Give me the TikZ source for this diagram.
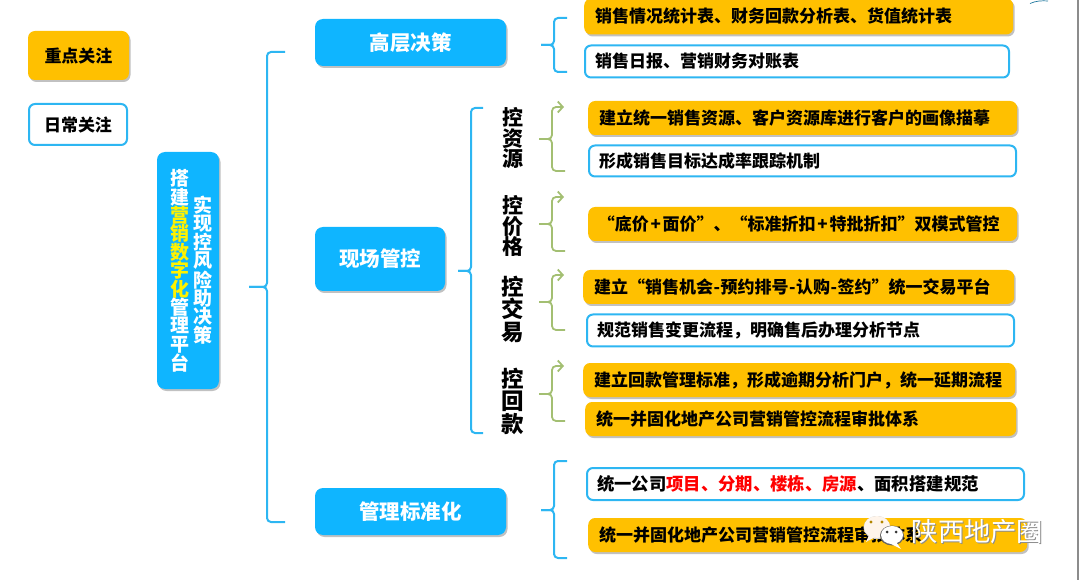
\documentclass[tikz,border=0pt]{standalone}
\usepackage{fontspec}
\setmainfont{Noto Sans CJK SC}
\usetikzlibrary{shadows}
\usetikzlibrary{calc, arrows.meta}

\definecolor{goldfill}{HTML}{FFC000}
\definecolor{skyfill}{HTML}{0FB5FF}
\definecolor{skyline}{HTML}{2DB6F2}
\definecolor{leafgreen}{HTML}{A3BF72}

\tikzset{
  softshadow/.style={drop shadow={shadow xshift=1.5pt, shadow yshift=-2pt, opacity=.35, fill=black!70}},
  goldbox/.style={fill=goldfill, rounded corners=7pt, softshadow, inner xsep=11pt, inner ysep=0pt, font=\fontsize{17}{20}\selectfont\bfseries, align=left},
  whitebox/.style={draw=skyline, line width=2pt, fill=white, rounded corners=6pt, inner xsep=10pt, inner ysep=0pt, font=\fontsize{17}{20}\selectfont\bfseries, align=left},
  skybox/.style={fill=skyfill, rounded corners=8pt, softshadow, text=white, font=\fontsize{20.5}{24}\selectfont\bfseries},
  stacklabel/.style={align=center, inner sep=0pt, font=\fontsize{21}{20.5}\selectfont\bfseries},
  widestack/.style={stacklabel, font=\fontsize{22.5}{22.5}\selectfont\bfseries},
  columnlabel/.style={align=center, inner sep=0pt, text=white, font=\fontsize{19}{18.4}\selectfont\bfseries},
  bluelink/.style={draw=skyline, line width=2pt, rounded corners=4pt},
  greenlink/.style={draw=leafgreen, line width=1.8pt, rounded corners=4pt},
}

% tip, upper end, lower end, shift of the spine; #1 goes on the upper half
\newcommand{\curlylink}[5][bluelink]{
  \draw[#1] (#2) -- ([xshift=#5]#2) -- ([xshift=#5]#2 |- #3) -- (#3);
  \draw[bluelink, #1, -] (#2) -- ([xshift=#5]#2) -- ([xshift=#5]#2 |- #4) -- (#4);
}
\newcommand{\wideplus}{\kern1.75pt+\kern1.75pt}
\newcommand{\widedash}{\kern.5pt-\kern.5pt}

\begin{document}
\begin{tikzpicture}[x=1pt, y=-1pt, >={Straight Barb[length=5pt, width=11pt]}]
        \useasboundingbox (0,0) rectangle (1080,580);

        % legend
        \node[goldbox, minimum width=101pt, minimum height=49pt, align=center] (focus) at (78.5,55.5) {重点关注};
        \node[whitebox, minimum width=98pt, minimum height=41pt, align=center] (daily) at (78,124.5) {日常关注};

        % root
        \node[skybox, minimum width=62pt, minimum height=237pt] (root) at (188,270.5) {};
        \node[columnlabel] (rootleft) at (180,271) {搭\\建\\\textcolor{yellow}{营}\\\textcolor{yellow}{销}\\\textcolor{yellow}{数}\\\textcolor{yellow}{字}\\\textcolor{yellow}{化}\\管\\理\\平\\台};
        \node[columnlabel] (rootright) at (203,270) {实\\现\\控\\风\\险\\助\\决\\策};

        % second level
        \node[skybox, minimum width=191pt, minimum height=47pt] (high) at (410.5,42.5) {高层决策};
        \node[skybox, minimum width=130pt, minimum height=64pt] (site) at (380,259) {现场管控};
        \node[skybox, minimum width=191pt, minimum height=47pt] (norm) at (410.5,511.5) {管理标准化};

        \node[stacklabel] (ctrlres) at (513,138) {控\\资\\源};
        \node[stacklabel] (ctrlprice) at (513,226) {控\\价\\格};
        \node[widestack] (ctrltrade) at (513,309) {控\\交\\易};
        \node[widestack] (ctrlback) at (513,401) {控\\回\\款};

        % leaves
        \foreach \nm/\x/\y/\w/\h/\txt in {
          leafa/584/16.5/429/36/销售情况统计表、财务回款分析表、货值统计表,
          leafc/588/118/429/34/建立统一销售资源、客户资源库进行客户的画像描摹,
          leaff/583/287/431/34/建立“销售机会\widedash 预约排号\widedash 认购\widedash 签约”统一交易平台,
          leafh/583/380/432/34/建立回款管理标准，形成逾期分析门户，统一延期流程,
          leafi/585/419/431/34/统一并固化地产公司营销管控流程审批体系,
          leafk/588/535/439/34/统一并固化地产公司营销管控流程审批体系} {
          \node[goldbox, anchor=west, text width=\w pt - 22pt, minimum height=\h pt] (\nm) at (\x,\y) {\txt};
        }
        \node[goldbox, anchor=west, inner xsep=0pt, minimum width=429pt, minimum height=34pt, align=center] (leafe) at (588,224) {“底价\wideplus 面价”、“标准折扣\wideplus 特批折扣”双模式管控\kern8pt};
        \foreach \nm/\x/\y/\w/\h/\txt in {
          leafb/584/61.5/426/32/销售日报、营销财务对账表,
          leafd/588/161/429/31/形成销售目标达成率跟踪机制,
          leafg/586/330.5/429/32/规范销售变更流程，明确售后办理分析节点,
          leafj/586/484/439/32/{\fontsize{17.35}{20}\selectfont 统一公司\textcolor{red}{项目、分期、楼栋、房源}、面积搭建规范}} {
          \node[whitebox, anchor=west, text width=\w pt - 22pt, minimum height=\h pt] (\nm) at (\x,\y) {\txt};
        }

        % brackets
        \coordinate (mainmid) at (249,287);
        \coordinate (maintop) at (285,52);
        \coordinate (mainbot) at (285,522);
        \curlylink{mainmid}{maintop}{mainbot}{18pt}
        \coordinate (highmid) at (541,45);
        \coordinate (hightop) at (567,18);
        \coordinate (highbot) at (567,72);
        \curlylink{highmid}{hightop}{highbot}{13pt}
        \coordinate (sitemid) at (458,271);
        \coordinate (sitetop) at (483,108);
        \coordinate (sitebot) at (483,433);
        \curlylink{sitemid}{sitetop}{sitebot}{13pt}
        \coordinate (normmid) at (541,510);
        \coordinate (normtop) at (567,461);
        \coordinate (normbot) at (567,558);
        \curlylink{normmid}{normtop}{normbot}{13pt}
        \foreach \nm/\ym/\yt/\yb in {res/139/107/171, price/224/197/251, trade/302/275/330, back/394/366/421} {
          \coordinate (\nm mid) at (539,\ym);
          \coordinate (\nm top) at (564,\yt);
          \coordinate (\nm bot) at (565,\yb);
          \curlylink[greenlink, ->]{\nm mid}{\nm top}{\nm bot}{13pt}
        }

        % watermark
        \fill[black!18] (877,527.5) ellipse (13.5pt and 11.5pt);
        \fill[white!92!orange] (877,527) ellipse (13pt and 11pt);
        \fill[white!92!orange] (869,535) -- (866,542) -- (875,537) -- cycle;
        \fill[goldfill!70!black] (871,522) circle (1.6pt) (882,522) circle (1.6pt);
        \fill[black!60] (892,535.5) ellipse (12pt and 10pt);
        \fill[white] (892,535) ellipse (11pt and 9pt);
        \fill[white] (896,542) -- (901,549) -- (889,543) -- cycle;
        \fill[black!80] (887,532) circle (1.5pt) (896,532) circle (1.5pt);
        \node[inner sep=0pt, text=black!45, font=\fontsize{26.3}{30}\selectfont] (markshade) at (978.5,533) {陕西地产圈};
        \node[inner sep=0pt, text=white, font=\fontsize{26.3}{30}\selectfont] (mark) at (977.5,532) {陕西地产圈};

        % edges of the screenshot
        \draw[black!45, line width=1.5pt] (1078,0) -- (1078,580);
        \draw[black!35!skyline, line width=.7pt] (1030,3.5) .. controls (1036,.8) and (1042,.5) .. (1048,1);
\end{tikzpicture}
\end{document}
